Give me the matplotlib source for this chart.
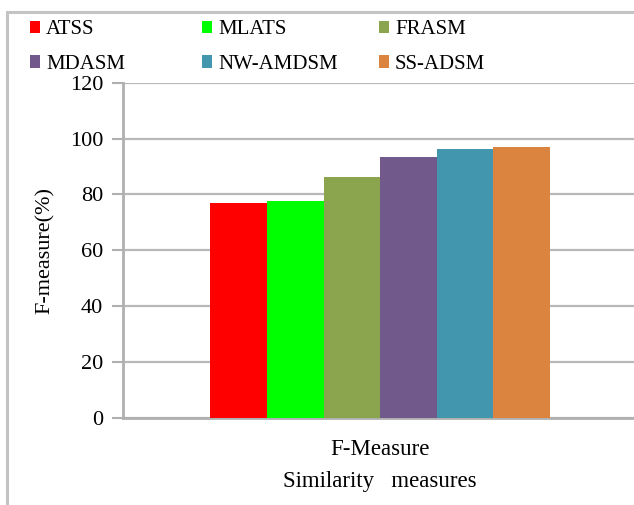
import matplotlib
matplotlib.use("Agg")
import matplotlib.pyplot as plt
from matplotlib.patches import Patch, Rectangle

# Data
methods = ["ATSS", "MLATS", "FRASM", "MDASM", "NW-AMDSM", "SS-ADSM"]
fmeasure = [76.8, 77.5, 86.3, 93.5, 96.1, 96.9]
colors = ["#ff0000", "#00ff00", "#8ba54e", "#72598c", "#4296ae", "#da843f"]
category = ["F-Measure"]
yticks = [0, 20, 40, 60, 80, 100, 120]

plt.rcParams["font.family"] = ["Liberation Serif", "DejaVu Serif"]

W, H = 634, 505
fig = plt.figure(figsize=(W / 100, H / 100), dpi=100)

# outer frame
fig.patches.append(Rectangle((7 / W, -0.1), 1.2, 1 - 11.5 / H + 0.1,
                             transform=fig.transFigure, fill=False,
                             edgecolor="#c4c4c4", linewidth=2.2))

ax = fig.add_axes([122.7 / W, (H - 417.7) / H, 515 / W, 335 / H])

bw = 0.11
n = len(methods)
for i, (m, v, c) in enumerate(zip(methods, fmeasure, colors)):
    ax.bar(0 + (i - (n - 1) / 2) * bw, v, width=bw, color=c, label=m,
           zorder=3)

ax.set_xlim(-0.5, 0.5)
ax.set_ylim(0, 120)
ax.set_yticks(yticks)
ax.set_yticklabels([str(t) for t in yticks], fontsize=16)
ax.set_xticks([0])
ax.set_xticklabels(category, fontsize=16.5)
ax.tick_params(axis="x", length=0, pad=15.5)
ax.tick_params(axis="y", length=8, width=1.5, color="#b0b0b0", pad=6)
ax.grid(axis="y", color="#b8b8b8", linewidth=1.6, zorder=0)
for s in ["top", "right"]:
    ax.spines[s].set_visible(False)
for s in ["left", "bottom"]:
    ax.spines[s].set_color("#b0b0b0")
    ax.spines[s].set_linewidth(2)

ax.set_ylabel("F-measure(%)", fontsize=16, labelpad=11)
ax.set_xlabel("Similarity   measures", fontsize=16.5, labelpad=8)

# legend: three columns of two entries each
handles = [Patch(facecolor=c) for c in colors]
col_x = [22, 194, 371]
for k in range(3):
    idx = [k, k + 3]
    fig.legend([handles[j] for j in idx], [methods[j] for j in idx],
               loc="upper left", bbox_to_anchor=(col_x[k] / W, 1 - 12 / H),
               frameon=False, fontsize=15, handlelength=0.45,
               handleheight=0.55, handletextpad=0.3, labelspacing=0.75,
               borderaxespad=0)

fig.savefig("out.png", dpi=100)
